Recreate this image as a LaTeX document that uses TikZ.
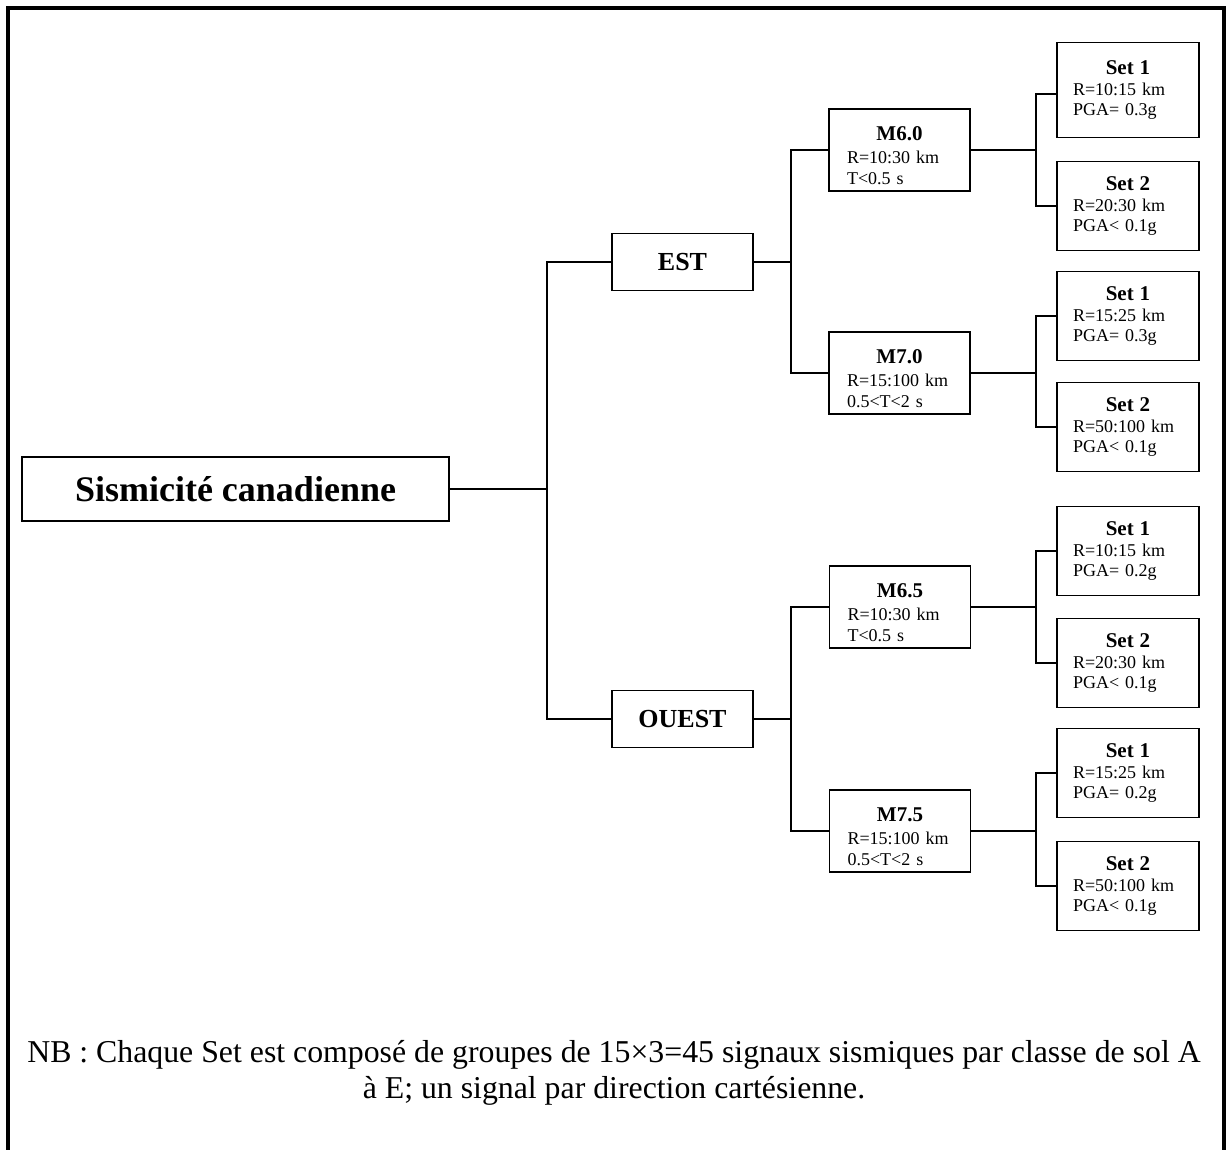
\documentclass[tikz,border=0pt]{standalone}
\usepackage{fontspec}
\setmainfont{Liberation Serif}
\usetikzlibrary{positioning}

\newcommand{\nodehead}[1]{\makebox[\linewidth]{\bfseries\fontsize{21}{23}\selectfont #1}}
\newcommand{\maghead}[1]{\rule{0pt}{25pt}\nodehead{#1}}

\begin{document}
\begin{tikzpicture}[
  x=1pt,y=-1pt,
  frame/.style={draw=black,line width=4pt},
  link/.style={draw=black,line width=1.5pt},
  rootbox/.style={draw,line width=1.6pt,minimum width=427,minimum height=64,inner sep=0pt,font=\bfseries\fontsize{36}{40}\selectfont},
  region/.style={draw,line width=1.6pt,minimum width=141,minimum height=57,inner sep=0pt,font=\bfseries\fontsize{26}{30}\selectfont},
  magbox/.style={draw,line width=1.6pt,text width=105,inner xsep=18,inner ysep=0pt,minimum height=82,align=left,font=\fontsize{18}{21}\selectfont},
  setbox/.style={draw,line width=1.6pt,text width=110,inner xsep=16,inner ysep=0pt,minimum height=89,align=left,font=\fontsize{18}{20.5}\selectfont},
  note/.style={align=center,font=\fontsize{31.8}{36}\selectfont}
]
\useasboundingbox (0,0) rectangle (1228,1150);
\draw[frame] (8,1150) -- (8,8) -- (1224,8) -- (1224,1150);

% Root.
\node[rootbox] (root) at (235.5,489) {Sismicité canadienne};
\node[region] (est) at (682.5,262) {EST};
\node[region] (ouest) at (682.5,719) {OUEST};
\coordinate (b0) at (547,489);
\draw[link] (root.east) -- (b0);
\draw[link] (est.west) -| (b0);
\draw[link] (ouest.west) -| (b0);

% EST.
\node[magbox] (m60) at (899.5,150) {\maghead{M6.0}\\[2pt]R=10:30 km\\T<0.5 s};
\node[magbox] (m70) at (899.5,373) {\maghead{M7.0}\\[2pt]R=15:100 km\\0.5<T<2 s};
\coordinate (b1) at (791,262);
\draw[link] (est.east) -- (b1);
\draw[link] (m60.west) -| (b1);
\draw[link] (m70.west) -| (b1);

% OUEST.
\node[magbox] (m65) at (900,607) {\maghead{M6.5}\\[2pt]R=10:30 km\\T<0.5 s};
\node[magbox] (m75) at (900,831) {\maghead{M7.5}\\[2pt]R=15:100 km\\0.5<T<2 s};
\coordinate (b2) at (791,719);
\draw[link] (ouest.east) -- (b2);
\draw[link] (m65.west) -| (b2);
\draw[link] (m75.west) -| (b2);

% M6.0 sets.
\node[setbox,minimum height=95] (s601) at (1128,90) {\nodehead{Set 1}\\R=10:15 km\\PGA= 0.3g};
\node[setbox] (s602) at (1128,206) {\nodehead{Set 2}\\R=20:30 km\\PGA< 0.1g};
\coordinate (b3) at (1036,150);
\draw[link] (m60.east) -- (b3);
\draw[link] ([yshift=-4]s601.west) -| (b3);
\draw[link] (s602.west) -| (b3);

% M7.0 sets.
\node[setbox] (s701) at (1128,316) {\nodehead{Set 1}\\R=15:25 km\\PGA= 0.3g};
\node[setbox] (s702) at (1128,427) {\nodehead{Set 2}\\R=50:100 km\\PGA< 0.1g};
\coordinate (b4) at (1036,373);
\draw[link] (m70.east) -- (b4);
\draw[link] (s701.west) -| (b4);
\draw[link] (s702.west) -| (b4);

% M6.5 sets.
\node[setbox] (s651) at (1128,551) {\nodehead{Set 1}\\R=10:15 km\\PGA= 0.2g};
\node[setbox] (s652) at (1128,663) {\nodehead{Set 2}\\R=20:30 km\\PGA< 0.1g};
\coordinate (b5) at (1036,607);
\draw[link] (m65.east) -- (b5);
\draw[link] (s651.west) -| (b5);
\draw[link] (s652.west) -| (b5);

% M7.5 sets.
\node[setbox] (s751) at (1128,773) {\nodehead{Set 1}\\R=15:25 km\\PGA= 0.2g};
\node[setbox] (s752) at (1128,886) {\nodehead{Set 2}\\R=50:100 km\\PGA< 0.1g};
\coordinate (b6) at (1036,831);
\draw[link] (m75.east) -- (b6);
\draw[link] (s751.west) -| (b6);
\draw[link] (s752.west) -| (b6);

% Note.
\node[note] (nb) at (614,1073) {NB : Chaque Set est composé de groupes de 15×3=45 signaux sismiques par classe de sol A\\à E; un signal par direction cartésienne.};
\end{tikzpicture}
\end{document}
